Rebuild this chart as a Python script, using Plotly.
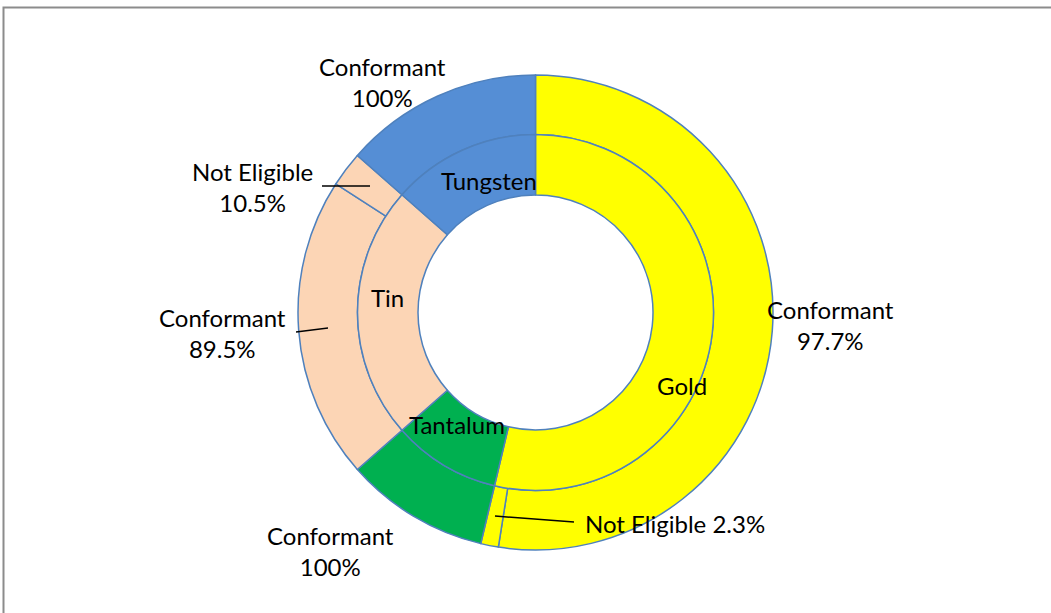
import plotly.graph_objects as go

W, H = 1051, 613

# inner ring: metal share (%)
metals = ["Gold", "Tantalum", "Tin", "Tungsten"]
metal_share = [53.7, 9.8, 23.0, 13.5]
metal_colors = ["#FFFF00", "#00B050", "#FCD5B5", "#558ED5"]

# outer ring: status within each metal
status = ["Conformant", "Not Eligible", "Conformant", "Conformant", "Not Eligible", "Conformant"]
status_metal = ["Gold", "Gold", "Tantalum", "Tin", "Tin", "Tungsten"]
status_share = [52.5, 1.2, 9.8, 20.6, 2.4, 13.5]
status_pct = ["97.7%", "2.3%", "100%", "89.5%", "10.5%", "100%"]

color_of = dict(zip(metals, metal_colors))
edge = "#4F81BD"

cx, cy = 535.5, H - 312.5   # centre in px from left / bottom
r_out, r_mid, r_hole = 237.5, 178, 117.5

def dom(r):
    return dict(x=[(cx - r) / W, (cx + r) / W], y=[(cy - r) / H, (cy + r) / H])

fig = go.Figure()
fig.add_trace(go.Pie(
    labels=[f"{m} {s}" for m, s in zip(status_metal, status)],
    values=status_share, sort=False, direction="clockwise", rotation=0,
    hole=r_mid / r_out, domain=dom(r_out), textinfo="none", hoverinfo="none",
    marker=dict(colors=[color_of[m] for m in status_metal], line=dict(color=edge, width=1.5)),
    showlegend=False))
fig.add_trace(go.Pie(
    labels=metals, values=metal_share, sort=False, direction="clockwise", rotation=0,
    hole=r_hole / r_mid, domain=dom(r_mid), textinfo="none", hoverinfo="none",
    marker=dict(colors=metal_colors, line=dict(color=edge, width=1.5)),
    showlegend=False))

font = dict(family="Lato, Open Sans, sans-serif", size=24, color="black")

def px(x, y):
    # pixel (from top-left) -> paper coords
    return x / W, 1 - y / H

# label positions (px)
outer_pos = [(830, 325), (675, 523), (330, 551), (222, 333), (252, 187), (382, 82)]
for i, (x, y) in enumerate(outer_pos):
    if status[i] == "Not Eligible" and status_metal[i] == "Gold":
        txt = f"{status[i]} {status_pct[i]}"
    else:
        txt = f"{status[i]}<br>{status_pct[i]}"
    ax, ay = px(x, y)
    fig.add_annotation(x=ax, y=ay, xref="paper", yref="paper", text=txt,
                       xanchor="center", yanchor="middle",
                       showarrow=False, font=font, align="center")

inner_pos = [(682, 385), (457, 424), (387, 297), (489, 180)]
for m, (x, y) in zip(metals, inner_pos):
    ax, ay = px(x, y)
    fig.add_annotation(x=ax, y=ay, xref="paper", yref="paper", text=m,
                       xanchor="center", yanchor="middle",
                       showarrow=False, font=font)

# leader lines
leaders = [((322, 186), (370, 186)), ((296, 332), (328, 328)), ((495, 516), (574, 522))]
for (x0, y0), (x1, y1) in leaders:
    a0, b0 = px(x0, y0)
    a1, b1 = px(x1, y1)
    fig.add_shape(type="line", xref="paper", yref="paper", x0=a0, y0=b0, x1=a1, y1=b1,
                  line=dict(color="black", width=1.5))

# chart frame (only top/left visible)
fx0, fy1 = px(3.5, 7.5)
fig.add_shape(type="rect", xref="paper", yref="paper", x0=fx0, y0=-0.1, x1=1.1, y1=fy1,
              line=dict(color="#8C8C8C", width=2))

fig.update_layout(width=W, height=H, margin=dict(l=0, r=0, t=0, b=0),
                  paper_bgcolor="white", plot_bgcolor="white")
fig.write_html("out.html", config={"displayModeBar": False},
               post_script="document.body.style.margin='0';")
